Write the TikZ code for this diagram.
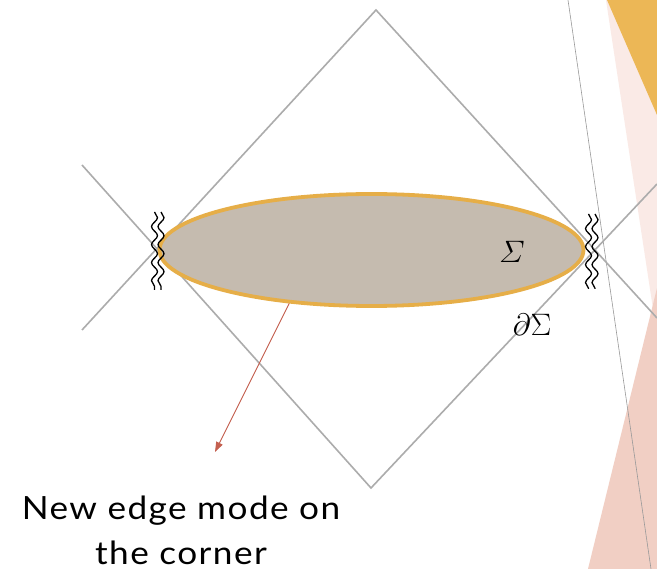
\RequirePackage{fix-cm}
\documentclass[tikz,border=0pt]{standalone}
\usepackage{fontspec}
\newfontfamily\notefont{Lato}[FakeStretch=1.1,LetterSpace=4.5]
\usepackage{tikz}
\usetikzlibrary{arrows.meta,shapes.geometric,decorations.pathmorphing}
\definecolor{conegray}{RGB}{172,172,172}
\definecolor{slicefill}{RGB}{197,187,175}
\definecolor{sliceedge}{RGB}{230,174,72}
\definecolor{pointred}{RGB}{196,96,80}
\definecolor{cornergold}{RGB}{236,183,86}
\definecolor{cornerpink}{RGB}{241,207,196}
\definecolor{palepink}{RGB}{250,234,230}

\begin{document}
\begin{tikzpicture}[
  x=1pt,y=-1pt,
  cone/.style={draw=conegray,line width=1.6pt},
  wiggle/.style={decorate,decoration={snake,amplitude=3pt,segment length=18pt},line width=1.3pt},
  slice/.style={ellipse,draw=sliceedge,line width=3.8pt,fill=slicefill,
                minimum width=424pt,minimum height=112pt,inner sep=0pt},
  note/.style={font=\notefont\fontsize{32}{45}\selectfont,align=center,inner sep=0pt},
  symb/.style={font=\fontsize{31}{36}\selectfont},
  pointer/.style={-{Triangle[length=10pt,width=7pt]},line width=0.9pt,draw=pointred,fill=pointred}
]
\useasboundingbox (0,0) rectangle (657,569);
\clip (0,0) rectangle (657,569);
\fill[white] (0,0) rectangle (657,569);

\fill[palepink] (606,0) -- (657,0) -- (657,335) -- cycle;
\fill[cornergold] (607,0) -- (657,0) -- (657,115) -- cycle;
\fill[cornerpink] (588,569) -- (657,569) -- (657,288) -- cycle;
\draw[gray!80,line width=0.6pt] (568,0) -- (651,569);

\coordinate (top) at (376,10);
\coordinate (bot) at (371,488);
\coordinate (lu) at (82,165);
\coordinate (ld) at (82,330);
\coordinate (ru) at (657,184);
\coordinate (rd) at (657,318);
\draw[cone] (lu) -- (bot) -- (ru);
\draw[cone] (ld) -- (top) -- (rd);

\node[slice] (sigma) at (371.5,250) {};
\node[symb] (s1) at (512,252) {$\mathnormal{\Sigma}$};
\node[symb] (s2) at (532,325) {$\partial\Sigma$};

\draw[wiggle] (154.5,212) -- (154.5,290);
\draw[wiggle] (161,212) -- (161,290);
\draw[wiggle] (588.5,214) -- (588.5,289);
\draw[wiggle] (595,214) -- (595,289);

\coordinate (tip) at (215,452);
\draw[pointer] (sigma.-147) -- (tip);
\node[note] (edge) at (181,530) {New edge mode on\\the corner};
\end{tikzpicture}
\end{document}
